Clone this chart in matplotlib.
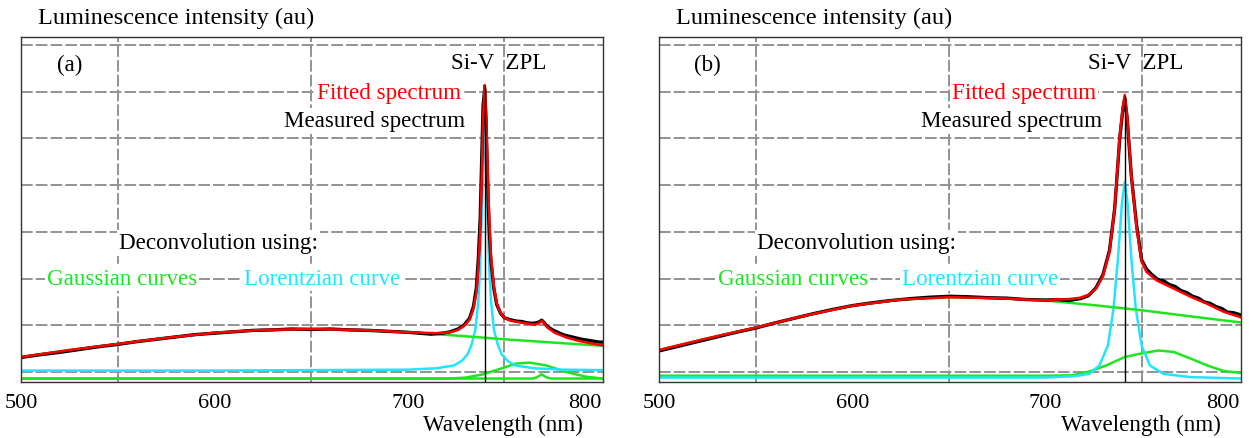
import matplotlib

matplotlib.use("Agg")
import matplotlib.pyplot as plt

# values (intensity in grid units, 0 = lowest grid line)
meas_a_nm = [500, 510, 520, 530, 540, 550, 560, 570, 580, 590, 600, 610, 620, 630,
             640, 650, 660, 670, 680, 690, 700, 706, 712, 718, 722, 726, 729, 732,
             734, 735.5, 736.5, 737.5, 738.3, 739, 739.8, 740.5, 741.3, 742, 743,
             744.5, 746, 748, 750, 753, 756, 759, 762, 765, 768, 769.3, 770.5, 772,
             775, 778, 781, 784, 787, 790, 793, 796, 799, 801]
meas_a = [0.31, 0.37, 0.42, 0.48, 0.54, 0.59, 0.65, 0.70, 0.75, 0.80, 0.83, 0.86,
          0.89, 0.90, 0.92, 0.91, 0.92, 0.90, 0.89, 0.87, 0.85, 0.83, 0.81, 0.83,
          0.86, 0.92, 1.00, 1.15, 1.40, 1.80, 2.40, 3.30, 4.60, 5.70, 6.05, 5.40,
          4.10, 3.20, 2.40, 1.80, 1.45, 1.26, 1.16, 1.12, 1.09, 1.08, 1.05, 1.04,
          1.07, 1.11, 1.06, 0.98, 0.90, 0.84, 0.79, 0.76, 0.73, 0.70, 0.68, 0.66,
          0.64, 0.64]

fit_a_nm = [500, 525, 550, 575, 600, 625, 650, 675, 700, 715, 722, 726, 729, 732,
            734, 735.5, 736.5, 737.5, 738.3, 739, 739.8, 740.5, 741.3, 742, 743,
            744.5, 746, 748, 750, 753, 758, 763, 766, 768, 769.3, 770.5, 772, 776,
            782, 788, 795, 801]
fit_a = [0.32, 0.47, 0.60, 0.73, 0.84, 0.90, 0.92, 0.90, 0.85, 0.83, 0.85, 0.90,
         0.98, 1.12, 1.35, 1.70, 2.20, 3.00, 4.20, 5.40, 6.14, 5.60, 4.40, 3.50,
         2.50, 1.85, 1.48, 1.27, 1.16, 1.10, 1.06, 1.03, 1.01, 1.05, 1.09, 1.05,
         0.96, 0.84, 0.74, 0.67, 0.61, 0.57]

broad_a_nm = [500, 525, 550, 575, 600, 625, 650, 675, 700, 725, 750, 775, 801]
broad_a = [0.32, 0.47, 0.60, 0.73, 0.84, 0.90, 0.92, 0.90, 0.85, 0.78, 0.70, 0.63, 0.56]

hump_a_nm = [500, 700, 722, 730, 739, 749.5, 756, 763, 771.7, 782, 792, 801]
hump_a = [-0.14, -0.14, -0.14, -0.12, -0.05, 0.09, 0.18, 0.20, 0.14, 0.00, -0.10, -0.14]

narrow_a_nm = [500, 765, 767, 769.3, 771.5, 774, 801]
narrow_a = [-0.14, -0.14, -0.11, -0.05, -0.11, -0.14, -0.14]

lor_a_nm = [500, 600, 700, 715, 724, 728, 731, 733, 735, 736.5, 737.5, 738.5, 739.2,
            739.8, 740.4, 741.1, 742.1, 743.1, 744.6, 746.6, 748.6, 751.6, 755.6,
            765, 780, 801]
lor_a = [0.03, 0.03, 0.05, 0.08, 0.14, 0.24, 0.38, 0.58, 0.90, 1.50, 2.30, 3.60,
         4.70, 5.20, 4.70, 3.60, 2.30, 1.50, 0.90, 0.58, 0.38, 0.24, 0.14, 0.08,
         0.05, 0.04]

meas_b_nm = [500, 510, 520, 530, 540, 550, 560, 570, 580, 590, 600, 610, 620, 630,
             640, 650, 660, 670, 680, 690, 700, 706, 712, 718, 722, 726, 729.6, 733,
             735.7, 738.3, 740, 740.9, 742.1, 744.3, 747, 749.6, 752.2, 755, 758,
             761, 764, 767, 770, 773, 776, 779, 782, 785, 788, 791, 794, 797, 801]
meas_b = [0.45, 0.55, 0.65, 0.75, 0.85, 0.94, 1.05, 1.15, 1.25, 1.34, 1.42, 1.48,
          1.53, 1.57, 1.60, 1.62, 1.61, 1.59, 1.58, 1.55, 1.54, 1.55, 1.53, 1.57,
          1.63, 1.80, 2.08, 2.60, 3.50, 5.00, 5.65, 5.85, 5.45, 4.20, 3.15, 2.40,
          2.20, 2.08, 1.98, 1.95, 1.87, 1.83, 1.74, 1.70, 1.62, 1.58, 1.50, 1.47,
          1.40, 1.36, 1.28, 1.27, 1.22]

fit_b_nm = [500, 525, 550, 575, 600, 625, 650, 675, 700, 705, 712, 718, 722, 726,
            729.6, 733, 735.7, 738.3, 740, 740.9, 742.1, 744.3, 747, 749.6, 752.2,
            757.4, 766, 775, 783.5, 792, 801]
fit_b = [0.47, 0.72, 0.95, 1.20, 1.42, 1.55, 1.60, 1.58, 1.53, 1.55, 1.56, 1.59,
         1.65, 1.78, 2.05, 2.57, 3.50, 5.05, 5.70, 5.93, 5.50, 4.20, 3.10, 2.36,
         2.14, 1.96, 1.79, 1.61, 1.46, 1.29, 1.17]

broad_b_nm = [500, 525, 550, 575, 600, 625, 650, 675, 700, 725, 750, 775, 801]
broad_b = [0.47, 0.72, 0.95, 1.20, 1.42, 1.55, 1.60, 1.58, 1.53, 1.43, 1.32, 1.19, 1.06]

hump_b_nm = [500, 700, 714, 722.6, 731.3, 740.9, 748.7, 758.3, 766.1, 774.8, 783.5,
             792.2, 801]
hump_b = [-0.08, -0.08, -0.07, 0.01, 0.14, 0.32, 0.39, 0.46, 0.43, 0.29, 0.14, 0.02, -0.02]

lor_b_nm = [500, 700, 715, 722.6, 727.8, 732.2, 735.1, 737.4, 739.5, 740.9, 742.3,
            744.3, 746.6, 749.6, 753.9, 760.9, 775, 801]
lor_b = [-0.12, -0.12, -0.09, -0.04, 0.14, 0.57, 1.36, 2.43, 3.64, 4.07, 3.64, 2.43,
         1.36, 0.57, 0.14, -0.04, -0.11, -0.14]

zpl_nm = [739.8, 740.8]
zpl_top = [6.14, 5.90]

x_ticks = [500, 600, 700, 800]
x_grid = [550, 600, 650, 700, 750]

RED = "#ff0000"
GREEN = "#1ee61e"
CYAN = "#22e4ff"
GRID = "#939393"

plt.rcParams.update(
    {
        "font.family": "Liberation Serif",
        "font.size": 16.6,
    }
)

# text positions (axes fraction) for each panel
LABELS = {
    "a": {"tag": (0.083, 0.92), "siv": (0.82, 0.925), "fit": (0.632, 0.838),
          "meas": (0.608, 0.757), "dec": (0.340, 0.403), "gauss": (0.174, 0.299),
          "lor": (0.518, 0.299)},
    "b": {"tag": (0.084, 0.92), "siv": (0.819, 0.925), "fit": (0.627, 0.838),
          "meas": (0.605, 0.757), "dec": (0.340, 0.403), "gauss": (0.230, 0.299),
          "lor": (0.552, 0.299)},
}


def draw_panel(ax, tag, meas, fit, broad, hump, lor, narrow, zpl, top):
    ax.set_xlim(500, 801)
    ax.set_ylim(-0.214, 7.17)
    ax.set_yticks(range(0, 8))
    ax.set_yticklabels([])
    ax.set_xticks(x_ticks)
    ax.set_xticklabels([str(t) for t in x_ticks])
    ax.get_xticklabels()[-1].set_ha("right")
    ax.set_xticks(x_grid, minor=True)
    ax.tick_params(which="both", length=0)
    ax.tick_params(axis="x", pad=8, labelsize=16)
    grid_style = dict(color=GRID, linestyle=(0, (6, 1.6)), linewidth=1.4)
    ax.grid(True, axis="y", which="major", **grid_style)
    ax.grid(True, axis="x", which="minor", **grid_style)
    ax.set_axisbelow(True)
    for spine in ax.spines.values():
        spine.set_color("#333333")
        spine.set_linewidth(1.0)

    ax.plot(*hump, color=GREEN, linewidth=1.8)
    if narrow is not None:
        ax.plot(*narrow, color=GREEN, linewidth=1.8)
    ax.plot(*lor, color=CYAN, linewidth=1.8)
    ax.plot(*broad, color=GREEN, linewidth=1.8)
    ax.plot(*meas, color="black", linewidth=2.4)
    ax.plot(*fit, color=RED, linewidth=1.8)
    ax.vlines(zpl, ax.get_ylim()[0], top, color="black", linewidth=1.0)

    pos = LABELS[tag]
    box = dict(facecolor="white", edgecolor="none", pad=1.5)
    tr = ax.transAxes
    ax.text(*pos["tag"], f"({tag})", transform=tr, ha="center", va="center")
    ax.text(*pos["siv"], "Si-V  ZPL", transform=tr, ha="center", va="center")
    ax.text(*pos["fit"], "Fitted spectrum", transform=tr, ha="center", va="center",
            color=RED, bbox=box)
    ax.text(*pos["meas"], "Measured spectrum", transform=tr, ha="center",
            va="center", bbox=box)
    ax.text(*pos["dec"], "Deconvolution using:", transform=tr, ha="center",
            va="center", bbox=box)
    ax.text(*pos["gauss"], "Gaussian curves", transform=tr, ha="center",
            va="center", color=GREEN, bbox=box)
    ax.text(*pos["lor"], "Lorentzian curve", transform=tr, ha="center",
            va="center", color=CYAN, bbox=box)
    ax.text(0.029, 1.058, "Luminescence intensity (au)", transform=tr, ha="left",
            va="center", fontsize=17.5)
    ax.text(0.965, -0.122, "Wavelength (nm)", transform=tr, ha="right", va="center")


def main() -> None:
    fig = plt.figure(figsize=(12.54, 4.39), dpi=100)
    ax_a = fig.add_axes([0.01675, 0.1276, 0.4641, 0.7859])
    ax_b = fig.add_axes([0.5255, 0.1276, 0.4641, 0.7859])

    draw_panel(ax_a, "a", (meas_a_nm, meas_a), (fit_a_nm, fit_a),
               (broad_a_nm, broad_a), (hump_a_nm, hump_a), (lor_a_nm, lor_a),
               (narrow_a_nm, narrow_a), zpl_nm[0], zpl_top[0])
    draw_panel(ax_b, "b", (meas_b_nm, meas_b), (fit_b_nm, fit_b),
               (broad_b_nm, broad_b), (hump_b_nm, hump_b), (lor_b_nm, lor_b),
               None, zpl_nm[1], zpl_top[1])

    fig.savefig("out.png", dpi=100)
    plt.close(fig)


if __name__ == "__main__":
    main()
